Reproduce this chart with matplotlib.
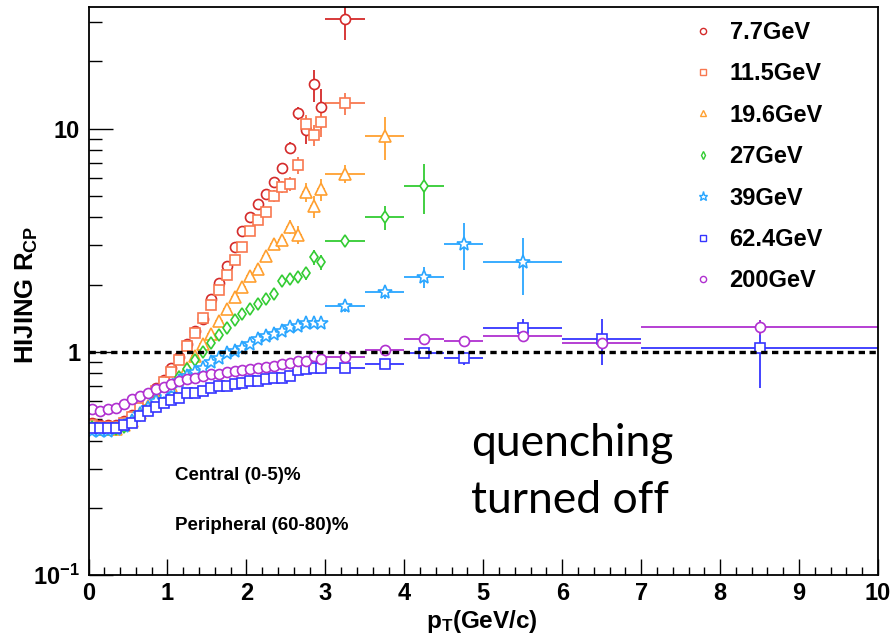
"""
HIJING R_CP vs pT for the BES energies, redrawn with matplotlib.
"""
import matplotlib
matplotlib.use("Agg")
import matplotlib.pyplot as plt
from matplotlib.lines import Line2D
from matplotlib.ticker import LogLocator, NullFormatter, MultipleLocator

plt.rcParams['font.family'] = ['Liberation Sans', 'DejaVu Sans']
plt.rcParams['font.weight'] = 'bold'
plt.rcParams['mathtext.fontset'] = 'custom'
plt.rcParams['mathtext.rm'] = 'Liberation Sans:bold'
plt.rcParams['mathtext.bf'] = 'Liberation Sans:bold'
plt.rcParams['mathtext.it'] = 'Liberation Sans:bold'

# bin centres: 0.1 GeV/c bins below 3, wide bins above
pt_fine = [0.05, 0.15, 0.25, 0.35, 0.45, 0.55, 0.65, 0.75, 0.85, 0.95,
           1.05, 1.15, 1.25, 1.35, 1.45, 1.55, 1.65, 1.75, 1.85, 1.95,
           2.05, 2.15, 2.25, 2.35, 2.45, 2.55, 2.65, 2.75, 2.85, 2.95]
pt_coarse = [3.25, 3.75, 4.25, 4.75, 5.5, 6.5, 8.5]
pt_coarse_hw = [0.25, 0.25, 0.25, 0.25, 0.5, 0.5, 1.5]

labels = ['7.7GeV', '11.5GeV', '19.6GeV', '27GeV', '39GeV', '62.4GeV', '200GeV']

rcp_7 = [0.48, 0.47, 0.47, 0.47, 0.49, 0.52, 0.59, 0.63, 0.69, 0.75,
         0.85, 0.95, 1.08, 1.24, 1.40, 1.72, 2.03, 2.42, 2.94, 3.47,
         4.04, 4.6, 5.1, 5.75, 6.65, 8.2, 11.75, 9.9, 15.8, 12.5]
rcp_7_c = [30.9]
err_7 = [0.01, 0.01, 0.01, 0.01, 0.01, 0.01, 0.01, 0.01, 0.01, 0.02,
         0.02, 0.02, 0.03, 0.03, 0.04, 0.05, 0.06, 0.08, 0.1, 0.12,
         0.15, 0.2, 0.25, 0.3, 0.4, 0.5, 0.8, 1.4, 2.6, 2.5]
err_7_c = [6.0]

rcp_11 = [0.47, 0.46, 0.46, 0.46, 0.48, 0.51, 0.56, 0.61, 0.67, 0.73,
          0.81, 0.92, 1.06, 1.21, 1.42, 1.62, 1.89, 2.22, 2.58, 2.96,
          3.47, 3.90, 4.25, 5.0, 5.5, 5.66, 6.84, 10.5, 9.4, 10.7]
rcp_11_c = [13.0]
err_11 = [0.01, 0.01, 0.01, 0.01, 0.01, 0.01, 0.01, 0.01, 0.01, 0.02,
          0.02, 0.02, 0.03, 0.03, 0.04, 0.05, 0.06, 0.07, 0.08, 0.1,
          0.12, 0.15, 0.2, 0.3, 0.35, 0.4, 0.6, 1.0, 1.0, 1.5]
err_11_c = [1.5]

rcp_19 = [0.46, 0.45, 0.45, 0.45, 0.47, 0.49, 0.53, 0.57, 0.61, 0.65,
          0.70, 0.77, 0.85, 0.96, 1.08, 1.20, 1.38, 1.55, 1.76, 1.96,
          2.19, 2.35, 2.70, 3.04, 3.17, 3.64, 3.35, 5.19, 4.48, 5.34]
rcp_19_c = [6.28, 9.26]
err_19 = [0.01, 0.01, 0.01, 0.01, 0.01, 0.01, 0.01, 0.01, 0.01, 0.01,
          0.01, 0.02, 0.02, 0.02, 0.03, 0.03, 0.04, 0.05, 0.06, 0.07,
          0.08, 0.1, 0.12, 0.15, 0.2, 0.25, 0.3, 0.5, 0.5, 0.6]
err_19_c = [0.6, 2.0]

rcp_27 = [0.46, 0.45, 0.45, 0.45, 0.46, 0.49, 0.52, 0.56, 0.60, 0.64,
          0.70, 0.77, 0.84, 0.92, 1.00, 1.09, 1.19, 1.28, 1.39, 1.47,
          1.56, 1.64, 1.73, 1.82, 2.08, 2.13, 2.17, 2.25, 2.65, 2.52]
rcp_27_c = [3.15, 4.0, 5.56]
err_27 = [0.01, 0.01, 0.01, 0.01, 0.01, 0.01, 0.01, 0.01, 0.01, 0.01,
          0.01, 0.01, 0.01, 0.01, 0.02, 0.02, 0.02, 0.02, 0.03, 0.03,
          0.03, 0.04, 0.04, 0.05, 0.06, 0.07, 0.08, 0.15, 0.2, 0.2]
err_27_c = [0.12, 0.5, 1.4]

rcp_39 = [0.44, 0.44, 0.44, 0.45, 0.465, 0.49, 0.525, 0.56, 0.60, 0.65,
          0.69, 0.74, 0.78, 0.81, 0.85, 0.90, 0.94, 0.99, 1.01, 1.045,
          1.08, 1.14, 1.18, 1.20, 1.24, 1.29, 1.31, 1.34, 1.35, 1.35]
rcp_39_c = [1.61, 1.85, 2.16, 3.05, 2.52]
err_39 = [0.01, 0.01, 0.01, 0.01, 0.01, 0.01, 0.01, 0.01, 0.01, 0.01,
          0.01, 0.01, 0.01, 0.01, 0.01, 0.01, 0.01, 0.02, 0.02, 0.02,
          0.02, 0.02, 0.03, 0.03, 0.03, 0.04, 0.04, 0.05, 0.05, 0.06]
err_39_c = [0.1, 0.12, 0.23, 0.72, 0.73]

rcp_62 = [0.457, 0.457, 0.457, 0.457, 0.47, 0.481, 0.516, 0.543, 0.566, 0.592,
          0.606, 0.623, 0.657, 0.657, 0.668, 0.691, 0.704, 0.704, 0.716, 0.728,
          0.741, 0.741, 0.754, 0.767, 0.767, 0.78, 0.827, 0.836, 0.845, 0.845]
rcp_62_c = [0.845, 0.88, 0.987, 0.937, 1.28, 1.14, 1.04]
err_62 = [0.005, 0.005, 0.005, 0.005, 0.005, 0.005, 0.005, 0.005, 0.005, 0.005,
          0.005, 0.005, 0.005, 0.005, 0.005, 0.01, 0.01, 0.01, 0.01, 0.01,
          0.01, 0.01, 0.01, 0.01, 0.01, 0.015, 0.015, 0.015, 0.02, 0.02]
err_62_c = [0.03, 0.04, 0.05, 0.06, 0.13, 0.27, 0.35]

rcp_200 = [0.553, 0.543, 0.553, 0.562, 0.582, 0.613, 0.634, 0.657, 0.68, 0.696,
           0.716, 0.741, 0.754, 0.767, 0.78, 0.794, 0.794, 0.808, 0.822, 0.827,
           0.836, 0.85, 0.856, 0.865, 0.88, 0.895, 0.911, 0.911, 0.96, 0.927]
rcp_200_c = [0.95, 1.02, 1.14, 1.12, 1.18, 1.10, 1.29]
err_200 = [0.005, 0.005, 0.005, 0.005, 0.005, 0.005, 0.005, 0.005, 0.005, 0.005,
           0.005, 0.005, 0.005, 0.005, 0.005, 0.01, 0.01, 0.01, 0.01, 0.01,
           0.01, 0.01, 0.01, 0.01, 0.01, 0.01, 0.015, 0.015, 0.015, 0.02]
err_200_c = [0.02, 0.03, 0.04, 0.04, 0.05, 0.06, 0.1]

series = [
    (rcp_7, rcp_7_c, err_7, err_7_c, '#d42a2a', 'o', 7.2),
    (rcp_11, rcp_11_c, err_11, err_11_c, '#f87850', 's', 7.0),
    (rcp_19, rcp_19_c, err_19, err_19_c, '#ffa030', '^', 8.0),
    (rcp_27, rcp_27_c, err_27, err_27_c, '#33cc33', 'd', 6.0),
    (rcp_39, rcp_39_c, err_39, err_39_c, '#2aa6ff', '*', 10.5),
    (rcp_62, rcp_62_c, err_62, err_62_c, '#3535ff', 's', 7.0),
    (rcp_200, rcp_200_c, err_200, err_200_c, '#b030d0', 'o', 7.2),
]

fig = plt.figure(figsize=(8.94, 6.38), dpi=100)
ax = fig.add_axes([88.5 / 894, 63 / 638, 789.5 / 894, 568.3 / 638])

handles = []
for vals, vals_c, err, err_c, color, marker, ms in series:
    n = len(vals_c)
    x = pt_fine + pt_coarse[:n]
    y = vals + vals_c
    xe = [0.05] * len(pt_fine) + pt_coarse_hw[:n]
    ye = err + err_c
    ax.errorbar(x, y, xerr=xe, yerr=ye, fmt=marker, color=color, ms=ms,
                mfc='white', mec=color, mew=1.2, elinewidth=1.3, capsize=0)
    handles.append(Line2D([], [], ls='none', marker=marker, color=color,
                          mfc='none', mew=1.0, ms=ms * 0.62))

ax.axhline(1.0, color='black', lw=2.4, ls=(0, (1.9, 1.35)), zorder=5)

ax.set_xlim(0, 10)
ax.set_ylim(0.1, 35.2)
ax.set_yscale('log')

ax.set_xticks(range(11))
ax.xaxis.set_minor_locator(MultipleLocator(0.2))
ax.set_yticks([0.1, 1, 10], labels=[r'$10^{-1}$', '1', '10'])
ax.yaxis.set_minor_locator(LogLocator(base=10, subs=range(2, 10)))
ax.yaxis.set_minor_formatter(NullFormatter())

ax.tick_params(axis='both', which='both', direction='in', labelsize=17,
               width=1.0, top=False, right=False)
ax.tick_params(axis='x', which='major', length=11.3, pad=5)
ax.tick_params(axis='x', which='minor', length=5.5)
ax.tick_params(axis='y', which='major', length=17, pad=6)
ax.tick_params(axis='y', which='minor', length=9.5)
for sp in ax.spines.values():
    sp.set_linewidth(1.3)

fig.text(27 / 894, 1 - 295 / 638, r'HIJING R$_{\rm CP}$', rotation=90,
         ha='center', va='center', fontsize=18.5, fontweight='bold')
fig.text(482 / 894, 1 - 628 / 638, r'p$_{\rm T}$(GeV/c)', ha='center',
         va='baseline', fontsize=17.5, fontweight='bold')

ax.text(1.095, 0.266, 'Central (0-5)%', fontsize=13.5, fontweight='bold',
        va='baseline')
ax.text(1.095, 0.159, 'Peripheral (60-80)%', fontsize=13.5, fontweight='bold',
        va='baseline')
ax.text(4.85, 0.341, 'quenching', fontsize=32, family='Lato',
        fontweight='normal', va='baseline')
ax.text(4.85, 0.190, 'turned off', fontsize=32, family='Lato',
        fontweight='normal', va='baseline')

leg = ax.legend(handles, labels, loc='upper left',
                bbox_to_anchor=(0.763, 0.975), frameon=False, fontsize=17,
                handlelength=1.0, handletextpad=0.64, labelspacing=0.78,
                borderpad=0, borderaxespad=0)
for t in leg.get_texts():
    t.set_fontweight('bold')

fig.savefig('out.png', dpi=100)
